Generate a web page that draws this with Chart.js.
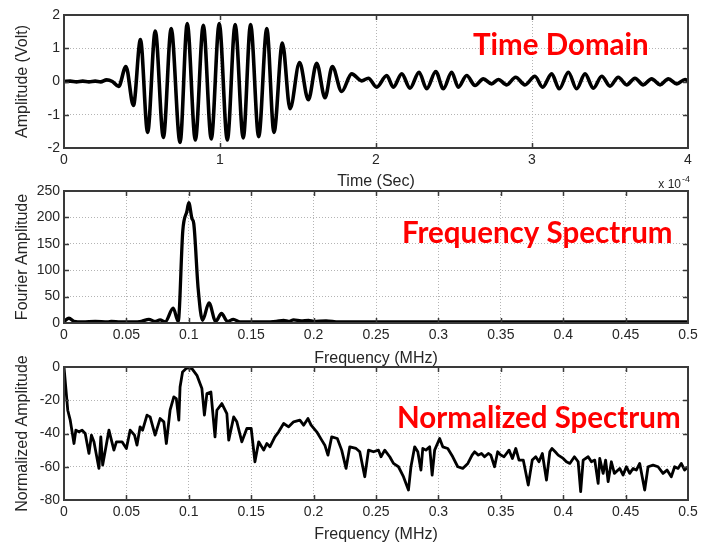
<!DOCTYPE html>
<html>
<head>
<meta charset="utf-8">
<script src="https://cdn.jsdelivr.net/npm/chart.js@4.4.0/dist/chart.umd.min.js"></script>
<style>
  html, body { margin: 0; padding: 0; background: #ffffff; }
  #wrap { position: relative; width: 712px; height: 544px; overflow: hidden; }
  #wrap canvas { position: absolute; left: 0; top: 0; }
</style>
</head>
<body>
<div id="wrap">
  <canvas id="timeChart" width="712" height="544"></canvas>
  <canvas id="specChart" width="712" height="544"></canvas>
  <canvas id="normChart" width="712" height="544"></canvas>
</div>
<script>
// ---- Received tone burst (time in units of 1e-4 s, amplitude in volts) ----
const burstTime = [
  0, 0.04, 0.08, 0.12, 0.16, 0.2, 0.235, 0.273, 0.31, 0.35,
  0.397, 0.445, 0.49, 0.536, 0.585, 0.637, 0.687, 0.744, 0.79, 0.842,
  0.893, 0.944, 0.995, 1.047, 1.097, 1.149, 1.196, 1.248, 1.30, 1.346,
  1.40, 1.449, 1.51, 1.566, 1.62, 1.673, 1.72, 1.78, 1.844, 1.908,
  1.951, 2.004, 2.069, 2.111, 2.165, 2.218, 2.276, 2.325, 2.383, 2.432,
  2.485, 2.528, 2.581, 2.635, 2.688, 2.741, 2.784, 2.838, 2.895, 2.955,
  3.019, 3.068, 3.126, 3.175, 3.233, 3.286, 3.340, 3.393, 3.447, 3.50,
  3.553, 3.607, 3.660, 3.713, 3.767, 3.821, 3.874, 3.928, 3.981, 4.0
];
const burstVolt = [
  0, 0.01, -0.01, 0.01, -0.01, 0.01, -0.01, 0.05, 0.0, -0.15,
  0.45, -0.72, 1.26, -1.53, 1.52, -1.68, 1.59, -1.83, 1.74, -1.76,
  1.69, -1.73, 1.74, -1.76, 1.71, -1.70, 1.71, -1.66, 1.59, -1.53,
  1.16, -0.82, 0.57, -0.55, 0.55, -0.49, 0.45, -0.30, 0.23, 0.02,
  0.10, -0.17, 0.18, -0.17, 0.23, -0.20, 0.28, -0.22, 0.30, -0.22,
  0.28, -0.17, 0.18, -0.12, 0.08, -0.07, 0.06, -0.10, 0.13, -0.10,
  0.16, -0.17, 0.23, -0.22, 0.28, -0.22, 0.23, -0.20, 0.16, -0.14,
  0.13, -0.10, 0.10, -0.10, 0.08, -0.10, 0.08, -0.07, 0.06, 0.02
];

// ---- Fourier amplitude spectrum (frequency in MHz) ----
const specFreq = [
  0, 0.004, 0.008, 0.015, 0.025, 0.035, 0.038, 0.045, 0.055, 0.062,
  0.068, 0.073, 0.077, 0.081, 0.0875, 0.0915, 0.0952, 0.0985, 0.1, 0.1025,
  0.104, 0.1075, 0.111, 0.1162, 0.1215, 0.1262, 0.131, 0.1357, 0.141, 0.15,
  0.16, 0.17, 0.176, 0.18, 0.184, 0.19, 0.196, 0.2, 0.21, 0.22,
  0.25, 0.3, 0.35, 0.4, 0.45, 0.5
];
const specAmp = [
  3, 9, 3, 2, 3, 2, 3, 2, 2, 3,
  7, 3, 6, 2, 28, 3, 175, 212, 228, 198,
  188, 65, 5, 38, 3, 18, 3, 7, 2, 2,
  2, 3, 5, 3, 6, 4, 5, 3, 4, 2,
  2, 2, 2, 2, 2, 2
];

// ---- Normalized spectrum (dB) ----
const normFreq = [
  0, 0.003, 0.005, 0.008, 0.0095, 0.012, 0.0145, 0.017, 0.020, 0.022,
  0.024, 0.028, 0.0295, 0.031, 0.036, 0.040, 0.042, 0.0465, 0.050, 0.053,
  0.0565, 0.0585, 0.061, 0.063, 0.0665, 0.069, 0.073, 0.077, 0.080, 0.082,
  0.085, 0.088, 0.090, 0.092, 0.093, 0.095, 0.0985, 0.1025, 0.1065, 0.1105,
  0.1125, 0.1145, 0.1177, 0.121, 0.1225, 0.1265, 0.1305, 0.132, 0.136, 0.1385,
  0.1425, 0.1465, 0.150, 0.153, 0.156, 0.160, 0.1625, 0.165, 0.169, 0.172,
  0.176, 0.180, 0.184, 0.189, 0.192, 0.1955, 0.198, 0.2025, 0.2065, 0.209,
  0.2115, 0.2145, 0.219, 0.2225, 0.226, 0.229, 0.234, 0.237, 0.241, 0.244,
  0.248, 0.252, 0.254, 0.257, 0.261, 0.264, 0.268, 0.272, 0.276, 0.278,
  0.281, 0.2835, 0.286, 0.2875, 0.290, 0.293, 0.295, 0.297, 0.301, 0.3035,
  0.3075, 0.3115, 0.3155, 0.3195, 0.3236, 0.327, 0.329, 0.332, 0.3345, 0.337,
  0.340, 0.342, 0.345, 0.3475, 0.350, 0.3526, 0.3566, 0.3593, 0.362, 0.3646,
  0.368, 0.372, 0.3752, 0.378, 0.3806, 0.3833, 0.3866, 0.3893, 0.391, 0.3936,
  0.396, 0.400, 0.4026, 0.4053, 0.409, 0.412, 0.414, 0.416, 0.420, 0.4226,
  0.4253, 0.428, 0.4293, 0.432, 0.434, 0.436, 0.4386, 0.441, 0.4453, 0.448,
  0.4506, 0.4533, 0.456, 0.4586, 0.4613, 0.4653, 0.468, 0.472, 0.476, 0.480,
  0.4832, 0.4866, 0.4893, 0.492, 0.4946, 0.4973, 0.5
];
const normDb = [
  0, -26, -32, -46, -38, -39, -38, -40, -52, -41,
  -45, -61, -42, -59, -38, -50, -45, -45, -49, -38,
  -41, -47, -36, -38, -29, -30, -41, -31, -33, -46,
  -26, -18, -19, -32, -12, -3, -0.5, -1, -5, -13,
  -29, -16, -15, -42, -26, -22, -28, -44, -30, -33,
  -45, -37, -37, -57, -45, -50, -46, -48, -42, -39,
  -34, -36, -33, -32, -35, -31, -35, -39, -44, -47,
  -53, -42, -43, -50, -61, -48, -49, -51, -66, -50,
  -51, -50, -54, -50, -54, -58, -60, -66, -74, -60,
  -48, -51, -62, -49, -50, -48, -65, -50, -43, -48,
  -49, -54, -60, -61, -58, -53, -51, -53, -52, -54,
  -52, -53, -60, -51, -53, -54, -50, -55, -49, -56,
  -56, -71, -56, -54, -57, -52, -68, -51, -49, -51,
  -53, -55, -57, -58, -54, -57, -75, -56, -54, -57,
  -56, -70, -55, -64, -56, -69, -57, -64, -61, -65,
  -60, -64, -61, -62, -58, -74, -60, -59, -60, -64,
  -62, -66, -60, -61, -58, -62, -60
];

// ---- Axis ticks ----
const timeTicks = [0, 1, 2, 3, 4];
const timeTickLabels = ['0', '1', '2', '3', '4'];
const voltTicks = [-2, -1, 0, 1, 2];
const voltTickLabels = ['-2', '-1', '0', '1', '2'];
const freqTicks = [0, 0.05, 0.1, 0.15, 0.2, 0.25, 0.3, 0.35, 0.4, 0.45, 0.5];
const freqTickLabels = ['0', '0.05', '0.1', '0.15', '0.2', '0.25', '0.3', '0.35', '0.4', '0.45', '0.5'];
const fourierTicks = [0, 50, 100, 150, 200, 250];
const fourierTickLabels = ['0', '50', '100', '150', '200', '250'];
const dbTicks = [-80, -60, -40, -20, 0];
const dbTickLabels = ['-80', '-60', '-40', '-20', '0'];

const FONT = '"Liberation Sans", Arial, Helvetica, sans-serif';
const TEXT = '#262626';
const GRID = '#b4b4b4';

const pairs = (xs, ys) => xs.map((x, i) => ({ x, y: ys[i] }));

// Box around the plot area plus inward tick marks on all four sides
const framePlugin = {
  id: 'frame',
  afterDraw(chart) {
    const { ctx, chartArea: a, scales } = chart;
    ctx.save();
    ctx.strokeStyle = '#3a3a3a';
    ctx.lineWidth = 1.5;
    ctx.beginPath();
    const L = 5;
    scales.x.ticks.forEach(t => {
      const px = Math.round(scales.x.getPixelForValue(t.value)) + 0.5;
      if (px <= a.left + 1 || px >= a.right - 1) return;
      ctx.moveTo(px, a.bottom); ctx.lineTo(px, a.bottom - L);
      ctx.moveTo(px, a.top); ctx.lineTo(px, a.top + L);
    });
    scales.y.ticks.forEach(t => {
      const py = Math.round(scales.y.getPixelForValue(t.value)) + 0.5;
      if (py <= a.top + 1 || py >= a.bottom - 1) return;
      ctx.moveTo(a.left, py); ctx.lineTo(a.left + L, py);
      ctx.moveTo(a.right, py); ctx.lineTo(a.right - L, py);
    });
    ctx.stroke();
    ctx.lineWidth = 2;
    ctx.strokeRect(a.left, a.top, a.right - a.left, a.bottom - a.top);
    ctx.restore();
  }
};

// Red panel caption and optional exponent note
const notePlugin = {
  id: 'note',
  afterDraw(chart, args, opts) {
    const { ctx } = chart;
    ctx.save();
    if (opts.caption) {
      ctx.font = 'bold 29.5px Lato, "Open Sans", sans-serif';
      ctx.fillStyle = '#ff0000';
      ctx.textAlign = 'left';
      ctx.textBaseline = 'alphabetic';
      ctx.fillText(opts.caption, opts.cx, opts.cy);
    }
    if (opts.exponent) {
      ctx.fillStyle = TEXT;
      ctx.textBaseline = 'alphabetic';
      ctx.textAlign = 'right';
      ctx.font = '12px ' + FONT;
      ctx.fillText('x 10', opts.ex, opts.ey);
      ctx.textAlign = 'left';
      ctx.font = '9px ' + FONT;
      ctx.fillText(opts.exponent, opts.ex + 1, opts.ey - 6);
    }
    ctx.restore();
  }
};

function makeScales(o) {
  const tickFont = { family: FONT, size: 14 };
  const titleFont = { family: FONT, size: 16 };
  return {
    x: {
      type: 'linear', min: o.xmin, max: o.xmax,
      afterBuildTicks: s => { s.ticks = o.xticks.map(v => ({ value: v })); },
      afterFit: s => { s.height = o.xh; },
      grid: { color: GRID, lineWidth: 1, drawTicks: false },
      border: { display: false, dash: [1, 2] },
      ticks: { padding: 4, color: TEXT, font: tickFont, maxRotation: 0, autoSkip: false,
               callback: (v, i) => o.xlabels[i] },
      title: { display: true, text: o.xtitle, color: TEXT, font: titleFont,
               padding: { top: 0, bottom: o.xtp } }
    },
    y: {
      type: 'linear', min: o.ymin, max: o.ymax,
      afterBuildTicks: s => { s.ticks = o.yticks.map(v => ({ value: v })); },
      afterFit: s => { s.width = 64; },
      grid: { color: GRID, lineWidth: 1, drawTicks: false },
      border: { display: false, dash: [1, 2] },
      ticks: { padding: 4, color: TEXT, font: tickFont, autoSkip: false,
               callback: (v, i) => o.ylabels[i] },
      title: { display: true, text: o.ytitle, color: TEXT, font: titleFont,
               padding: { top: 13, bottom: 0 } }
    }
  };
}

function makeChart(id, data, lineOpts, scaleOpts, pad, note) {
  return new Chart(document.getElementById(id), {
    type: 'line',
    data: {
      datasets: [Object.assign({
        data,
        borderColor: '#000000',
        borderWidth: 3,
        pointRadius: 0,
        fill: false,
        borderJoinStyle: 'round',
        borderCapStyle: 'round'
      }, lineOpts)]
    },
    options: {
      responsive: false,
      animation: false,
      events: [],
      layout: { padding: pad },
      scales: makeScales(scaleOpts),
      plugins: { legend: { display: false }, tooltip: { enabled: false }, note }
    },
    plugins: [framePlugin, notePlugin]
  });
}

makeChart('timeChart', pairs(burstTime, burstVolt),
  { cubicInterpolationMode: 'monotone', borderWidth: 3.6 },
  { xmin: 0, xmax: 4, xticks: timeTicks, xlabels: timeTickLabels, xtitle: 'Time (Sec)', xh: 47, xtp: 4,
    ymin: -2, ymax: 2, yticks: voltTicks, ylabels: voltTickLabels, ytitle: 'Amplitude (Volt)' },
  { left: 0, top: 15, right: 24, bottom: 349 },
  { caption: 'Time Domain', cx: 473, cy: 55, exponent: '-4', ex: 681, ey: 188 });

makeChart('specChart', pairs(specFreq, specAmp),
  { cubicInterpolationMode: 'monotone', borderWidth: 3.3 },
  { xmin: 0, xmax: 0.5, xticks: freqTicks, xlabels: freqTickLabels, xtitle: 'Frequency (MHz)', xh: 49, xtp: 4,
    ymin: 0, ymax: 250, yticks: fourierTicks, ylabels: fourierTickLabels, ytitle: 'Fourier Amplitude' },
  { left: 0, top: 191, right: 24, bottom: 172 },
  { caption: 'Frequency Spectrum', cx: 402, cy: 243 });

makeChart('normChart', pairs(normFreq, normDb),
  { tension: 0, borderWidth: 2.8 },
  { xmin: 0, xmax: 0.5, xticks: freqTicks, xlabels: freqTickLabels, xtitle: 'Frequency (MHz)', xh: 44, xtp: 0,
    ymin: -80, ymax: 0, yticks: dbTicks, ylabels: dbTickLabels, ytitle: 'Normalized Amplitude' },
  { left: 0, top: 367, right: 24, bottom: 0 },
  { caption: 'Normalized Spectrum', cx: 397, cy: 428 });
</script>
</body>
</html>
